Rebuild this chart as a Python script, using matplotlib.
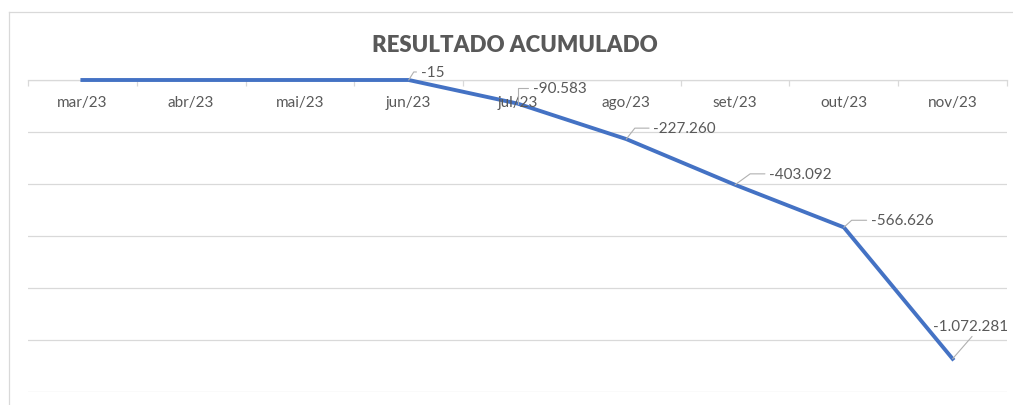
import numpy as np
import matplotlib.pyplot as plt
from matplotlib.lines import Line2D

# dados do gráfico
meses = ["mar/23", "abr/23", "mai/23", "jun/23", "jul/23", "ago/23", "set/23", "out/23", "nov/23"]
resultado = [0, 0, 0, -15, -90583, -227260, -403092, -566626, -1072281]

# posição dos rótulos (pt): dx, dy da linha de base, ângulo da linha guia
desloc = {3: (8.6, 2.9, 58), 4: (10.8, 8.6, 90), 5: (19.4, 5.0, 52),
          6: (24.5, 5.0, 36), 7: (19.4, 2.2, 42), 8: (-14.4, 21.0, 49)}

plt.rcParams['font.family'] = ['Lato', 'DejaVu Sans']
cinza_txt = "#595959"
cinza_grade = "#D9D9D9"

fig = plt.figure(figsize=(10.13, 4.06), dpi=100)
ax = fig.add_axes([28 / 1013, 13 / 406, 979 / 1013, 312 / 406])

x = np.arange(len(meses))
ax.plot(x, resultado, color="#4472C4", lw=2.8, clip_on=False, zorder=3)

ax.set_xlim(-0.5, len(meses) - 0.5)
ax.set_ylim(-1200000, 0)
ax.set_yticks(np.arange(-1200000, 1, 200000))
ax.set_yticklabels([])
ax.tick_params(axis="y", length=0)
ax.grid(axis="y", color=cinza_grade, lw=0.9)
ax.set_axisbelow(True)

ax.set_xticks(np.arange(-0.5, len(meses), 1))
ax.set_xticklabels([])
ax.tick_params(axis="x", top=True, bottom=False, direction="in", length=4,
               color=cinza_grade, width=0.9, labeltop=False, labelbottom=False)

for s in ["left", "right", "bottom"]:
    ax.spines[s].set_visible(False)
ax.spines["top"].set_color(cinza_grade)
ax.spines["top"].set_linewidth(0.9)

# rótulos das categorias (abaixo do eixo, no topo)
for i, m in enumerate(meses):
    ax.annotate(m, xy=(i, 1), xycoords=("data", "axes fraction"),
                xytext=(0, -18.7), textcoords="offset points",
                ha="center", va="baseline", fontsize=11, color=cinza_txt)

# rótulos de dados com linhas guia
for i, (dx, dy, ang) in desloc.items():
    txt = f"{resultado[i]:,.0f}".replace(",", ".")
    rp = (0.5, 0) if dx < 0 else (0, 0.5)
    ax.annotate(txt, xy=(i, resultado[i]), xytext=(dx, dy), textcoords="offset points",
                ha="left", va="baseline", fontsize=11, color=cinza_txt,
                arrowprops=dict(arrowstyle="-", color="#B0B0B0", lw=0.8,
                                shrinkA=1, shrinkB=0, relpos=rp,
                                connectionstyle=f"angle,angleA=0,angleB={ang},rad=0"))

fig.text(515 / 1013, 1 - 52 / 406, "RESULTADO ACUMULADO", ha="center", va="baseline",
         fontsize=16, fontweight="heavy", color=cinza_txt)

# borda da área do gráfico
fig.add_artist(Line2D([9 / 1013, 1], [1 - 13 / 406] * 2, transform=fig.transFigure,
                      color=cinza_grade, lw=0.9))
fig.add_artist(Line2D([9 / 1013, 9 / 1013], [0, 1 - 13 / 406], transform=fig.transFigure,
                      color=cinza_grade, lw=0.9))

fig.savefig("out.png", dpi=100)
